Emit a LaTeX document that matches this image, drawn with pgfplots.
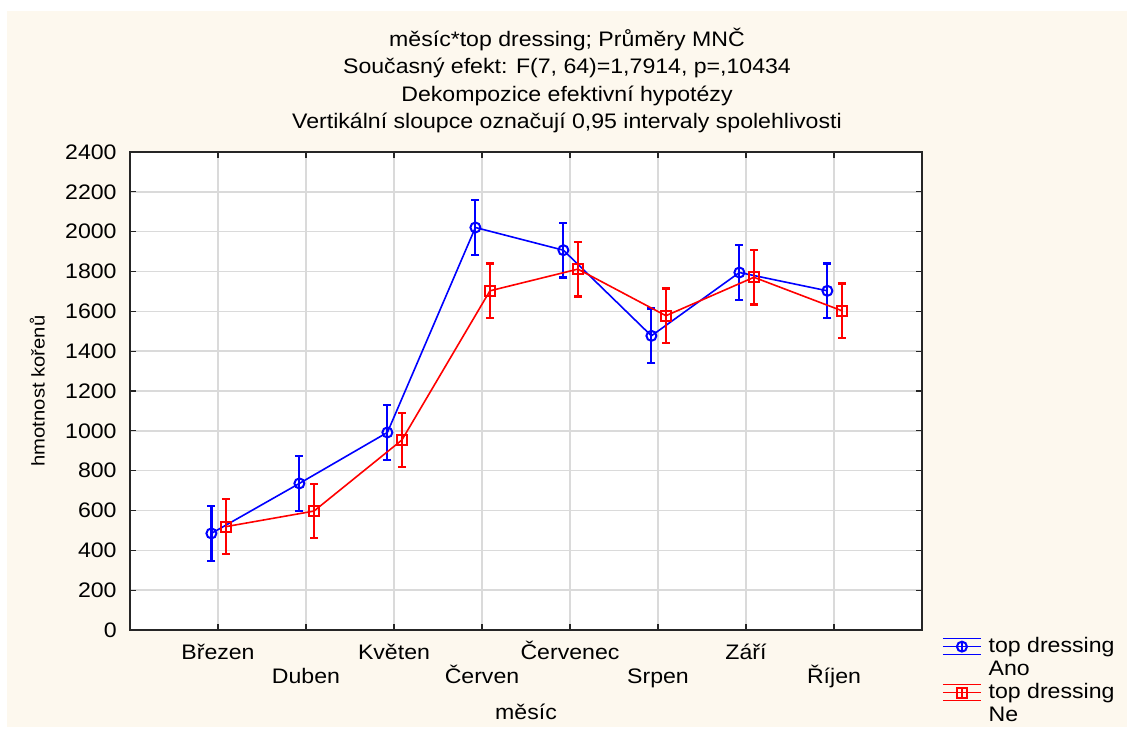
\documentclass[border=0pt]{standalone}
\usepackage{fontspec}
\setmainfont{Liberation Sans}[FakeStretch=1.1]
\usepackage{pgfplots}
\pgfplotsset{compat=1.18}
\definecolor{cream}{HTML}{FDF8EE}
\definecolor{gridgray}{HTML}{DADADA}
\definecolor{axisdark}{HTML}{262626}

% legend glyph: line, two bars and the mark, as the original shows it
\pgfplotsset{
    cilegend/.style 2 args={
        legend image code/.code={
            \draw[#1,line width=0.75pt] (0pt,0pt) -- (19pt,0pt);
            \draw[#1,line width=0.75pt] (0pt,4pt) -- (19pt,4pt);
            \draw[#1,line width=0.75pt] (0pt,-4pt) -- (19pt,-4pt);
            \draw[#1,line width=0.9pt] (9.5pt,-2.5pt) -- (9.5pt,2.5pt);
            \draw[#1,line width=0.9pt] plot[mark=#2,mark size=2.5pt] coordinates {(9.5pt,0pt)};
        }
    }
}

% means and CI half-widths (0.95)
\pgfplotstableread{
x      y     e
-0.075 485   137
0.925  736   137
1.925  992   137
2.925  2021  137
3.925  1907  137
4.925  1477  137
5.925  1795  137
6.925  1703  137
}\ano
\pgfplotstableread{
x      y     e
0.09   519   137
1.09   597   137
2.09   954   137
3.09   1703  137
4.09   1812  137
5.09   1578  137
6.09   1771  137
7.09   1603  137
}\ne

\begin{document}
\fontsize{10.5}{12.6}\selectfont
\begin{tikzpicture}
\useasboundingbox (0pt,0pt) rectangle (563.5pt,364.5pt);
\fill[white] (0pt,0pt) rectangle (563.5pt,364.5pt);
\fill[cream] (3.5pt,1pt) rectangle (563.5pt,359pt);
\node[anchor=base,inner sep=0pt] at (283.5pt,341pt) {měsíc*top dressing; Průměry MNČ};
\node[anchor=base,inner sep=0pt] at (283.5pt,327.5pt) {Současný efekt: F(7, 64)=1,7914, p=,10434};
\node[anchor=base,inner sep=0pt] at (283.5pt,313.5pt) {Dekompozice efektivní hypotézy};
\node[anchor=base,inner sep=0pt] at (283.5pt,300pt) {Vertikální sloupce označují 0,95 intervaly spolehlivosti};
\begin{axis}[
    at={(65pt,49.5pt)}, anchor=south west,
    scale only axis, width=396pt, height=239pt,
    xmin=-1, xmax=8, ymin=0, ymax=2400,
    ytick={0,200,...,2400},
    xtick={0,2,4,6},
    xticklabels={Březen,Květen,Červenec,Září},
    extra x ticks={1,3,5,7},
    extra x tick labels={Duben,Červen,Srpen,Říjen},
    extra x tick style={grid=major, tick label style={yshift=-12pt}},
    grid=major,
    grid style={gridgray, line width=0.7pt},
    tick align=inside,
    major tick length=3pt,
    tick style={axisdark, line width=0.6pt},
    axis line style={axisdark, line width=1pt},
    axis background/.style={fill=white},
    /pgf/number format/assume math mode=true,
    /pgf/number format/1000 sep={},
    x tick label style={anchor=base, yshift=-14.5pt, inner sep=0pt},
    y tick label style={anchor=east, inner sep=0pt, xshift=-6.5pt},
    ylabel={hmotnost kořenů},
    ylabel style={at={(axis description cs:-0.117,0.5)}, anchor=center, font=\fontsize{9.2}{10}\selectfont},
    xlabel={měsíc},
    xlabel style={at={(axis description cs:0.5,-0.1715)}, anchor=center},
    legend cell align=left,
    legend style={at={(1.025,-0.012)}, anchor=north west, draw=none, fill=none,
        inner sep=0pt, row sep=1pt, column sep=3.5pt,
        nodes={inner sep=0pt, text height=8pt, text depth=2.5pt}},
]
\addplot[blue, line width=0.8pt, mark=o, mark size=2.5pt,
    mark options={solid, line width=1pt}, cilegend={blue}{o},
    error bars/.cd, y dir=both, y explicit,
    error bar style={line width=1.1pt},
    error mark options={rotate=90, mark size=2pt, line width=1.1pt}]
    table[x=x, y=y, y error=e] {\ano};
\addlegendentry{top dressing}
\addlegendimage{empty legend}
\addlegendentry{Ano}
\addplot[red, line width=0.8pt, mark=square, mark size=2.5pt,
    mark options={solid, line width=1pt}, cilegend={red}{square},
    error bars/.cd, y dir=both, y explicit,
    error bar style={line width=1.1pt},
    error mark options={rotate=90, mark size=2pt, line width=1.1pt}]
    table[x=x, y=y, y error=e] {\ne};
\addlegendentry{top dressing}
\addlegendimage{empty legend}
\addlegendentry{Ne}
\end{axis}
\end{tikzpicture}
\end{document}
